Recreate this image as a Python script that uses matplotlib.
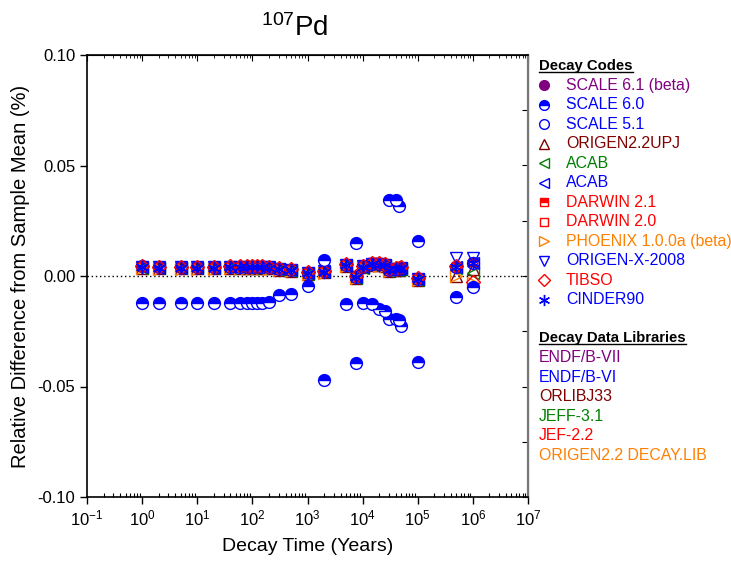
import matplotlib
matplotlib.use("Agg")
import matplotlib.pyplot as plt
from matplotlib.lines import Line2D
from matplotlib.ticker import LogLocator, FixedLocator, FormatStrFormatter, NullFormatter

plt.rcParams['font.family'] = ['Liberation Sans', 'DejaVu Sans']
plt.rcParams['mathtext.fontset'] = 'custom'
plt.rcParams['mathtext.rm'] = 'Liberation Sans'
plt.rcParams['mathtext.it'] = 'Liberation Sans:italic'
plt.rcParams['mathtext.bf'] = 'Liberation Sans:bold'

# ---------------- data ----------------
times = [1, 2, 5, 10, 20, 40, 60, 80, 100, 120, 150, 200, 300, 500, 1e3, 2e3,
         5e3, 7.5e3, 1e4, 1.5e4, 2e4, 2.5e4, 3e4, 4e4, 4.5e4, 5e4, 1e5, 5e5, 1e6]

scale60 = [-0.0122, -0.0122, -0.0122, -0.0122, -0.0122, -0.0122, -0.0122, -0.0122,
           -0.0122, -0.0121, -0.0120, -0.0118, -0.0088, -0.0082, -0.0044, 0.0073,
           -0.0125, 0.0150, -0.0124, -0.0128, -0.0150, -0.0160, -0.0195, -0.0195,
           -0.0200, -0.0225, 0.0160, -0.0094, -0.0048]
scale60_extra_t = [2e3, 7.5e3, 3e4, 4e4, 4.5e4, 1e5]
scale60_extra_v = [-0.0470, -0.0395, 0.0345, 0.0345, 0.0315, -0.0390]

scale51 = [0.0045, 0.0040, 0.0040, 0.0040, 0.0040, 0.0041, 0.0041, 0.0042, 0.0042,
           0.0042, 0.0041, 0.0039, 0.0033, 0.0027, 0.0013, 0.0021, 0.0049, -0.0003,
           0.0043, 0.0055, 0.0053, 0.0049, 0.0027, 0.0031, 0.0031, 0.0035, -0.0013,
           0.0041, 0.0059]
origen22upj = [0.0037, 0.0035, 0.0035, 0.0035, 0.0035, 0.0037, 0.0037, 0.0038, 0.0038,
               0.0038, 0.0037, 0.0035, 0.0029, 0.0023, 0.0009, 0.0017, 0.0045, -0.0007,
               0.0039, 0.0052, 0.0049, 0.0045, 0.0023, 0.0027, 0.0027, 0.0031, -0.0017,
               0.0000, 0.0030]
acab_jeff = [0.0036, 0.0034, 0.0034, 0.0034, 0.0034, 0.0036, 0.0036, 0.0037, 0.0037,
             0.0037, 0.0036, 0.0034, 0.0028, 0.0022, 0.0008, 0.0016, 0.0044, -0.0008,
             0.0038, 0.0051, 0.0048, 0.0044, 0.0022, 0.0026, 0.0026, 0.0030, -0.0018,
             0.0036, 0.0015]
acab_endf = [0.0040, 0.0038, 0.0038, 0.0038, 0.0038, 0.0040, 0.0040, 0.0041, 0.0041,
             0.0041, 0.0040, 0.0038, 0.0032, 0.0026, 0.0012, 0.0020, 0.0048, -0.0004,
             0.0042, 0.0055, 0.0052, 0.0048, 0.0026, 0.0030, 0.0030, 0.0034, -0.0014,
             0.0040, 0.0058]
darwin21 = [0.0046, 0.0044, 0.0044, 0.0044, 0.0044, 0.0046, 0.0046, 0.0047, 0.0047,
            0.0047, 0.0046, 0.0044, 0.0038, 0.0032, 0.0018, 0.0026, 0.0054, 0.0002,
            0.0050, 0.0064, 0.0062, 0.0058, 0.0032, 0.0036, 0.0036, 0.0040, -0.0008,
            0.0046, 0.0064]
darwin20 = [0.0045, 0.0043, 0.0043, 0.0043, 0.0043, 0.0045, 0.0045, 0.0046, 0.0046,
            0.0046, 0.0045, 0.0043, 0.0037, 0.0031, 0.0017, 0.0025, 0.0053, 0.0001,
            0.0049, 0.0062, 0.0060, 0.0056, 0.0031, 0.0035, 0.0035, 0.0039, -0.0009,
            0.0045, 0.0063]
phoenix = [0.0035, 0.0033, 0.0033, 0.0033, 0.0033, 0.0035, 0.0035, 0.0036, 0.0036,
           0.0036, 0.0035, 0.0033, 0.0027, 0.0021, 0.0007, 0.0015, 0.0043, -0.0009,
           0.0037, 0.0050, 0.0047, 0.0043, 0.0021, 0.0025, 0.0025, 0.0029, -0.0019,
           0.0000, -0.0030]
origenx = [0.0041, 0.0039, 0.0039, 0.0039, 0.0039, 0.0041, 0.0041, 0.0042, 0.0042,
           0.0042, 0.0041, 0.0039, 0.0033, 0.0027, 0.0013, 0.0021, 0.0049, -0.0003,
           0.0043, 0.0056, 0.0053, 0.0049, 0.0027, 0.0031, 0.0031, 0.0035, -0.0013,
           0.0080, 0.0080]
tibso = [0.0044, 0.0041, 0.0041, 0.0041, 0.0041, 0.0043, 0.0044, 0.0045, 0.0045,
         0.0045, 0.0044, 0.0042, 0.0036, 0.0030, 0.0016, 0.0024, 0.0054, 0.0002,
         0.0046, 0.0060, 0.0058, 0.0054, 0.0030, 0.0034, 0.0036, 0.0040, -0.0010,
         0.0044, -0.0028]
cinder90 = [0.0040, 0.0038, 0.0038, 0.0038, 0.0038, 0.0040, 0.0040, 0.0041, 0.0041,
            0.0041, 0.0040, 0.0038, 0.0032, 0.0026, 0.0012, 0.0020, 0.0048, -0.0004,
            0.0042, 0.0055, 0.0052, 0.0048, 0.0026, 0.0030, 0.0030, 0.0034, -0.0014,
            0.0040, 0.0058]

code_labels = ["SCALE 6.1 (beta)", "SCALE 6.0", "SCALE 5.1", "ORIGEN2.2UPJ", "ACAB", "ACAB",
               "DARWIN 2.1", "DARWIN 2.0", "PHOENIX 1.0.0a (beta)", "ORIGEN-X-2008",
               "TIBSO", "CINDER90"]
library_labels = ["ENDF/B-VII", "ENDF/B-VI", "ORLIBJ33", "JEFF-3.1", "JEF-2.2",
                  "ORIGEN2.2 DECAY.LIB"]
y_ticks = [-0.10, -0.05, 0.00, 0.05, 0.10]

# ---------------- styles ----------------
PURPLE = '#800080'
BLUE = '#0000FF'
DRED = '#800000'
GREEN = '#008000'
RED = '#FF0000'
ORANGE = '#FF8000'

styles = [
    dict(marker='o', mec=PURPLE, mfc=PURPLE),
    dict(marker='o', mec=BLUE, mfc=BLUE, fillstyle='top', markerfacecoloralt='white'),
    dict(marker='o', mec=BLUE, mfc='none'),
    dict(marker='^', mec=DRED, mfc='none'),
    dict(marker='<', mec=GREEN, mfc='none'),
    dict(marker='<', mec=BLUE, mfc='none'),
    dict(marker='s', mec=RED, mfc=RED, fillstyle='top', markerfacecoloralt='white'),
    dict(marker='s', mec=RED, mfc='none'),
    dict(marker='>', mec=ORANGE, mfc='none'),
    dict(marker='v', mec=BLUE, mfc='none'),
    dict(marker='D', mec=RED, mfc='none'),
    dict(marker=(6, 2, 0), mec=BLUE, mfc=BLUE),
]
plot_ms = [8.5, 8.5, 8.5, 8.5, 8.5, 8.5, 6.0, 6.0, 8.5, 8.5, 7.5, 9.5]
legend_ms = [7, 7, 7, 7, 7, 7, 6, 6, 7, 7, 6, 8]
text_colors = [PURPLE, BLUE, BLUE, DRED, GREEN, BLUE, RED, RED, ORANGE, BLUE, RED, BLUE]
lib_colors = [PURPLE, BLUE, DRED, GREEN, RED, ORANGE]

W, H = 731, 563
fig = plt.figure(figsize=(W / 100, H / 100), dpi=100)
ax = fig.add_axes([87 / W, 1 - 497 / H, (528 - 87) / W, (497 - 55) / H])

series = [(6, darwin21), (7, darwin20), (3, origen22upj), (4, acab_jeff), (8, phoenix),
          (2, scale51), (5, acab_endf), (9, origenx), (10, tibso), (11, cinder90)]
for idx, vals in series:
    ax.plot(times, vals, ls='none', ms=plot_ms[idx], mew=1.0, **styles[idx])
ax.plot(times, scale60, ls='none', ms=plot_ms[1], mew=1.0, **styles[1])
ax.plot(scale60_extra_t, scale60_extra_v, ls='none', ms=plot_ms[1], mew=1.0, **styles[1])

ax.axhline(0, color='black', lw=1, ls=(0, (1, 2)), zorder=0)

ax.set_xscale('log')
ax.set_xlim(0.1, 1e7)
ax.set_ylim(-0.1, 0.1)
ax.xaxis.set_major_locator(LogLocator(base=10, numticks=20))
ax.xaxis.set_minor_locator(LogLocator(base=10, subs=range(2, 10), numticks=100))
ax.xaxis.set_minor_formatter(NullFormatter())
ax.yaxis.set_major_locator(FixedLocator(y_ticks))
ax.yaxis.set_major_formatter(FormatStrFormatter('%.2f'))

ax.tick_params(which='major', direction='out', length=5, width=1, labelsize=12,
               top=False, right=False)
ax.tick_params(which='minor', direction='in', length=3, width=0.8, top=False, right=False)
sec_y = ax.secondary_yaxis('right')
sec_y.yaxis.set_major_locator(FixedLocator([-0.1, -0.075, -0.05, -0.025, 0, 0.025, 0.05, 0.075, 0.1]))
sec_y.tick_params(direction='in', length=4, labelright=False)
sec_x = ax.secondary_xaxis('top')
sec_x.xaxis.set_major_locator(LogLocator(base=10, numticks=20))
sec_x.xaxis.set_minor_locator(LogLocator(base=10, subs=range(2, 10), numticks=100))
sec_x.tick_params(which='both', direction='in', labeltop=False)
sec_x.tick_params(which='major', length=4)
sec_x.tick_params(which='minor', length=2)
for s in ax.spines.values():
    s.set_linewidth(1.2)
ax.spines['right'].set_color('#777777')
ax.spines['right'].set_linewidth(1.6)

ax.set_xlabel('Decay Time (Years)', fontsize=14, labelpad=7)
ax.set_ylabel('Relative Difference from Sample Mean (%)', fontsize=14.5, labelpad=5)
fig.text(295 / W, 1 - 28 / H, r'$^{107}$Pd', fontsize=20, ha='center', va='center')

# ---------------- legend (manual) ----------------
def fx(px):
    return px / W

def fy(py):
    return 1 - py / H

fs = 11.4
hdr1 = fig.text(fx(539), fy(66), 'Decay Codes', fontsize=10.7, fontweight='bold',
                ha='left', va='center')
for i, (lab, st, col) in enumerate(zip(code_labels, styles, text_colors)):
    yy = 85.2 + 19.5 * i
    fig.add_artist(Line2D([fx(544)], [fy(yy)], transform=fig.transFigure, ls='none',
                          ms=legend_ms[i], mew=1.0, **st))
    fig.text(fx(566), fy(yy), lab, color=col, fontsize=fs, ha='left', va='center')

hdr2 = fig.text(fx(539), fy(338), 'Decay Data Libraries', fontsize=10.7, fontweight='bold',
                ha='left', va='center')
for i, (lab, col) in enumerate(zip(library_labels, lib_colors)):
    fig.text(fx(539), fy(357.5 + 19.6 * i), lab, color=col, fontsize=fs,
             ha='left', va='center')

fig.canvas.draw()
r = fig.canvas.get_renderer()
for h in (hdr1, hdr2):
    bb = h.get_window_extent(r).transformed(fig.transFigure.inverted())
    fig.add_artist(Line2D([bb.x0, bb.x1], [bb.y0 + 0.002, bb.y0 + 0.002],
                          transform=fig.transFigure, color='black', lw=1))

fig.savefig('out.png', dpi=100)
